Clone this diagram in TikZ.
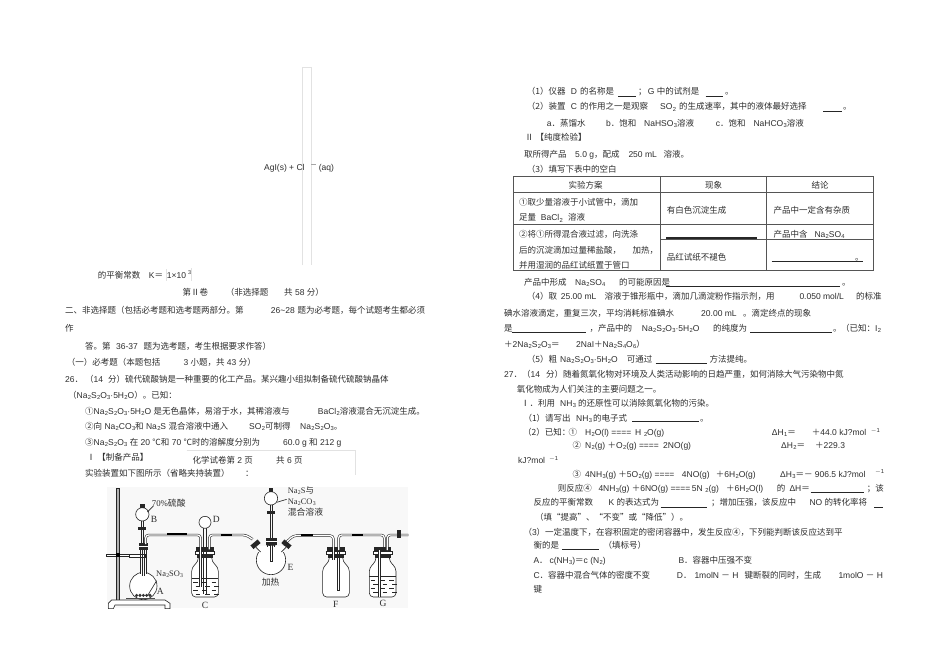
\documentclass[tikz,border=0pt]{standalone}
\usepackage{fontspec}
\setmainfont{Liberation Sans}
\newfontfamily\cjk{Noto Sans CJK SC}
\newfontfamily\labelserif{Liberation Serif}
\definecolor{ink_gray}{RGB}{45,45,45}
\definecolor{box_gray}{RGB}{226,226,226}
\definecolor{rule_gray}{RGB}{85,85,85}
\definecolor{back_gray}{RGB}{248,248,248}
\newcommand{\zh}[1]{{\fontsize{8.5}{10}\cjk #1}}
\newcommand{\low}[1]{\kern0.3pt\raisebox{-1.2pt}{\fontsize{5.8}{6}\selectfont #1}}
\newcommand{\high}[1]{\raisebox{3pt}{\fontsize{5.8}{6}\selectfont #1}}
\newcommand{\thio}{Na\low{2}S\low{2}O\low{3}}
\newcommand{\bottle}[1]{%
  \begin{scope}[shift={(#1,0)}]
    \draw[glass,fill=white,rounded corners=4pt] (-20,262) -- (-20,275) -- (-40,292) -- (-40,381) -- (40,381) -- (40,292) -- (20,275) -- (20,262);
    \fill[black!85] (-26,232) rectangle (26,245);
    \draw[glass,fill=white] (-28,245) rectangle (28,252);
    \fill[black!85] (-24,252) rectangle (24,265);
  \end{scope}}
\newcommand{\liquid}[2]{%
  \draw[glass] (#1-40,#2) -- (#1+40,#2);
  \foreach \yy/\off in {12/0,24/8,36/0,48/8}
    \foreach \xx in {-36,-8,20}
      \draw[glass] (#1+\xx+\off,#2+\yy) -- ++(14,0);}
\begin{document}
\begin{tikzpicture}[x=1pt,y=-1pt,text=ink_gray]
    \tikzset{txt/.style={anchor=base west, inner sep=0pt, font=\fontsize{8.5}{10}\selectfont}}
    \tikzset{blank/.style={black!85, line width=0.9pt}}
    \tikzset{cell/.style={rule_gray, line width=0.8pt}}
    \tikzset{glass/.style={black!85, line width=0.6pt}}
    \tikzset{tube/.style={draw=black!85, double=white, double distance=1.3pt, line width=0.55pt, rounded corners=3pt}}
    \tikzset{rubber/.style={black, line width=2.2pt}}
    \tikzset{lab/.style={anchor=base west, inner sep=0pt, font=\fontsize{9.5}{10}\labelserif}}
    \tikzset{labzh/.style={anchor=base west, inner sep=0pt, font=\fontsize{8.8}{10}\cjk}}
    \tikzset{labna/.style={anchor=base west, inner sep=0pt, font=\fontsize{8.4}{10}\labelserif}}
    \fill[white] (0,0) rectangle (950,671);
    \useasboundingbox (0,0) rectangle (950,671);

    % left column
    \draw[box_gray,line width=0.6pt] (302.3,265) -- (302.3,67.3) -- (311.7,67.3) -- (311.7,265);
    \draw[box_gray,line width=0.6pt] (166.7,269) -- (166.7,281) (191.7,268) -- (191.7,281);
    \draw[box_gray,line width=0.6pt] (186.7,450.7) -- (355,450.7) -- (355,475);
    \node[txt] (agi) at (264,171) {AgI(s) + Cl};
    \draw[black!35,line width=0.6pt] (311,164.5) -- (316,164.5);
    \node[txt] (aq) at (318.7,171) {(aq)};
    \node[txt] (ka) at (97.7,278) {\zh{的平衡常数}};
    \node[txt] (kb) at (148.7,278) {K\zh{＝}};
    \node[txt] (kc) at (166.7,278) {1×10};
    \node[txt] (kd) at (188,274) {\fontsize{5.5}{6}\selectfont 3};
    \node[txt] (p1a) at (182.3,295) {\zh{第Ⅱ卷}};
    \node[txt] (p1b) at (225.7,295) {\zh{（非选择题}};
    \node[txt] (p1c) at (284,295) {\zh{共} 58 \zh{分）}};
    \node[txt] (p2a) at (65,313.5) {\zh{二、非选择题（包括必考题和选考题两部分。第}};
    \node[txt] (p2b) at (270.7,313.5) {26\textasciitilde 28};
    \node[txt] (p2c) at (297.3,313.5) {\zh{题为必考题，每个试题考生都必须}};
    \node[txt] (p3) at (65,331) {\zh{作}};
    \node[txt] (p4a) at (85,349) {\zh{答。第}};
    \node[txt] (p4b) at (116,349) {36-37};
    \node[txt] (p4c) at (143.3,349) {\zh{题为选考题，考生根据要求作答）}};
    \node[txt] (p5a) at (66.7,365) {\zh{（一）必考题（本题包括}};
    \node[txt] (p5b) at (183.3,365) {3 \zh{小题，共} 43 \zh{分）}};
    \node[txt] (p6a) at (65,382.5) {26\zh{．}};
    \node[txt] (p6b) at (85,382.5) {\zh{（}14};
    \node[txt] (p6c) at (108,382.5) {\zh{分）}};
    \node[txt] (p6d) at (125,382.5) {\zh{硫代硫酸钠是一种重要的化工产品。某兴趣小组拟制备硫代硫酸钠晶体}};
    \node[txt] (p7) at (68,398.5) {\zh{（}\thio·5H\low{2}O\zh{）。已知：}};
    \node[txt] (p8a) at (85,414) {\zh{①}\thio·5H\low{2}O \zh{是无色晶体，易溶于水，其稀溶液与}};
    \node[txt] (p8b) at (317.7,414) {BaCl\low{2}\zh{溶液混合无沉淀生成。}};
    \node[txt] (p9a) at (85,429) {\zh{②向} Na\low{2}CO\low{3}\zh{和} Na\low{2}S \zh{混合溶液中通入}};
    \node[txt] (p9b) at (249,429) {SO\low{2}\zh{可制得}};
    \node[txt] (p9c) at (300,429) {\thio\zh{。}};
    \node[txt] (p10a) at (85,445) {\zh{③}\thio\ \zh{在} 20 \zh{℃和} 70 \zh{℃时的溶解度分别为}};
    \node[txt] (p10b) at (283,445) {60.0 g \zh{和} 212 g};
    \node[txt] (p11) at (86.7,460) {\zh{Ⅰ\ 【制备产品】}};
    \node[txt] (foota) at (192.3,463.5) {\zh{化学试卷第} 2 \zh{页}};
    \node[txt] (footb) at (276,463.5) {\zh{共} 6 \zh{页}};
    \node[txt] (p12a) at (85,476) {\zh{实验装置如下图所示（省略夹持装置）}};
    \node[txt] (p12b) at (245,476) {\zh{：}};

    % apparatus, in coordinates of its own
    \begin{scope}[shift={(90,470)},scale=1/3]
      \fill[back_gray] (50,50) rectangle (955,415);
      % stand and clamp
      \draw[glass,fill=black!30] (79,55) rectangle (87,392);
      \draw[glass,fill=white] (65,390) -- (225,390) -- (240,400) -- (240,416) -- (225,416) -- (225,405) -- (75,405) -- (70,416) -- (55,416) -- (55,400) -- cycle;
      \draw[glass,fill=white] (50,252) rectangle (118,258);
      \fill[black] (78,250) rectangle (90,261);
      \draw[glass,fill=white] (118,253) rectangle (165,262);
      % flask A
      \draw[glass,fill=white] (160,348) circle (41);
      \fill[white] (151,300) rectangle (169,320);
      \draw[glass] (151,235) -- (151,311) (169,235) -- (169,311);
      \draw[glass] (157,240) -- (157,318) (163,240) -- (163,318);
      \foreach \xx in {140,150,160,170,180}
        \fill[black!80] (\xx,376) circle (5);
      \draw[black!70,line width=0.8pt] (108,386) -- (195,386);
      \draw[glass] (172,378) -- (200,332);
      \fill[black!85] (147,218) rectangle (173,240);
      \draw[white,line width=0.8pt] (147,228) -- (173,228);
      % funnel B
      \draw[glass,fill=white] (157,133) circle (20);
      \fill[black!85] (150,103) rectangle (164,114);
      \draw[glass] (154,153) -- (154,218) (160,153) -- (160,218);
      \fill[black!85] (144,172) rectangle (168,181);
      \draw[glass] (172,126) -- (190,108);
      % tube A to C
      \draw[tube] (167,222) -- (167,195) -- (332,195) -- (332,345);
      \draw[rubber] (232,193) -- (290,193);
      % bottle C
      \bottle{345}
      \liquid{345}{325}
      \draw[tube] (332,232) -- (332,350);
      \draw[glass] (341,175) -- (341,372) (349,175) -- (349,372);
      \draw[glass,fill=white] (345,157) circle (18);
      \draw[tube] (358,238) -- (358,195) -- (468,195) -- (488,208);
      \draw[rubber] (392,195) -- (425,195);
      % flask E
      \draw[tube] (580,225) -- (610,197) -- (730,197) -- (730,270);
      \draw[glass,fill=white] (543,270) circle (44);
      \fill[white] (505,245) rectangle (582,228);
      \draw[glass] (498,232) -- (512,246) (588,232) -- (574,246);
      \draw[glass] (533,222) -- (533,232) (553,222) -- (553,232);
      \fill[black!85,rotate around={40:(496,222)}] (482,216) rectangle (510,230);
      \fill[black!85,rotate around={-40:(590,222)}] (576,216) rectangle (604,230);
      \draw[rubber] (632,195) -- (668,195);
      % funnel over E
      \draw[glass,fill=white] (543,85) circle (20);
      \fill[black!85] (536,54) rectangle (550,66);
      \draw[glass] (540,105) -- (540,275) -- (547,275) -- (547,105);
      \fill[black!85] (532,124) rectangle (554,133);
      \fill[black!85] (527,203) rectangle (560,225);
      \draw[white,line width=0.8pt] (527,213) -- (560,213);
      \draw[glass] (560,97) -- (590,88);
      % bottle F
      \bottle{738}
      \draw[tube] (730,232) -- (730,270);
      \draw[tube] (746,240) -- (746,195) -- (883,195) -- (883,240);
      \draw[glass] (743,240) -- (743,360) -- (749,360) -- (749,240);
      \draw[rubber] (787,195) -- (820,195);
      % bottle G
      \bottle{878}
      \liquid{878}{320}
      \draw[tube] (868,240) -- (868,382);
      \draw[tube] (892,240) -- (892,195) -- (955,195);
      \fill[black!85] (920,180) rectangle (934,205);
      % labels
      \node[labzh] (acid) at (185,110) {\labelserif 70\%\cjk 硫酸};
      \node[lab] (lb) at (182,158) {B};
      \node[lab] (la) at (200,374) {A};
      \node[labna] (sulfite) at (198,320) {Na\low{2}SO\low{3}};
      \node[lab] (lc) at (335,416) {C};
      \node[lab] (ld) at (368,157) {D};
      \node[lab] (le) at (592,301) {E};
      \node[lab] (lf) at (729,412) {F};
      \node[lab] (lg) at (868,409) {G};
      \node[labzh] (heat) at (515,347) {加热};
      \node[labna] (mixa) at (593,70) {Na\low{2}S\cjk 与};
      \node[labna] (mixb) at (593,104) {Na\low{2}CO\low{3}};
      \node[labzh] (mixc) at (593,135) {混合溶液};
    \end{scope}

    % right column
    \node[txt] (q1a) at (526.7,95) {\zh{（1）仪器}};
    \node[txt] (q1b) at (570.7,95) {D};
    \node[txt] (q1c) at (580,95) {\zh{的名称是}};
    \draw[blank] (618.3,96) -- (636,96);
    \node[txt] (q1d) at (638,95) {\zh{；}};
    \node[txt] (q1e) at (647.7,95) {G};
    \node[txt] (q1f) at (656.7,95) {\zh{中的试剂是}};
    \draw[blank] (705.7,96) -- (723.3,96);
    \node[txt] (q1g) at (725,95) {\zh{。}};
    \node[txt] (q2a) at (526.7,110) {\zh{（2）装置}};
    \node[txt] (q2b) at (570.7,110) {C};
    \node[txt] (q2c) at (580,110) {\zh{的作用之一是观察}};
    \node[txt] (q2d) at (660,110) {SO\low{2}};
    \node[txt] (q2e) at (679,110) {\zh{的生成速率，其中的液体最好选择}};
    \draw[blank] (823.3,111.7) -- (841.7,111.7);
    \node[txt] (q2f) at (843,110) {\zh{。}};
    \node[txt] (q3a) at (546.7,126.5) {a\zh{．蒸馏水}};
    \node[txt] (q3b) at (606,126.5) {b\zh{．饱和}};
    \node[txt] (q3c) at (644,126.5) {NaHSO\low{3}\zh{溶液}};
    \node[txt] (q3d) at (715.7,126.5) {c\zh{．饱和}};
    \node[txt] (q3e) at (753.3,126.5) {NaHCO\low{3}\zh{溶液}};
    \node[txt] (q4) at (525,141) {\zh{Ⅱ\ 【纯度检验】}};
    \node[txt] (q5a) at (524,157.5) {\zh{取所得产品}};
    \node[txt] (q5b) at (575,157.5) {5.0 g\zh{，配成}};
    \node[txt] (q5c) at (628.3,157.5) {250 mL};
    \node[txt] (q5d) at (663.3,157.5) {\zh{溶液。}};
    \node[txt] (q6) at (526.7,173) {\zh{（3）填写下表中的空白}};

    % table
    \draw[cell] (513.3,176.7) rectangle (873.3,270.7);
    \draw[cell] (660.3,176.7) -- (660.3,270.7) (766.7,176.7) -- (766.7,270.7);
    \draw[cell] (513.3,192.7) -- (873.3,192.7) (513.3,224.3) -- (873.3,224.3) (660.3,239.3) -- (873.3,239.3);
    \node[txt,anchor=base] (th1) at (585.7,189) {\zh{实验方案}};
    \node[txt,anchor=base] (th2) at (713.5,189) {\zh{现象}};
    \node[txt,anchor=base] (th3) at (820,189) {\zh{结论}};
    \node[txt] (c1a) at (519,206) {\zh{①取少量溶液于小试管中，滴加}};
    \node[txt] (c1b) at (519,221) {\zh{足量}};
    \node[txt] (c1c) at (540.7,221) {BaCl\low{2}};
    \node[txt] (c1d) at (568,221) {\zh{溶液}};
    \node[txt] (c2) at (666.7,214) {\zh{有白色沉淀生成}};
    \node[txt] (c3) at (773.3,214) {\zh{产品中一定含有杂质}};
    \node[txt] (c4a) at (519,237.5) {\zh{②将①所得混合液过滤，向洗涤}};
    \node[txt] (c4b) at (519,253.5) {\zh{后的沉淀滴加过量稀盐酸，}};
    \node[txt] (c4c) at (632.3,253.5) {\zh{加热，}};
    \node[txt] (c4d) at (519,268.5) {\zh{并用湿润的品红试纸置于管口}};
    \draw[blank,line width=1.1pt] (666,238) -- (757.3,238);
    \node[txt] (c5a) at (773.3,237.5) {\zh{产品中含}};
    \node[txt] (c5b) at (814.3,237.5) {Na\low{2}SO\low{4}};
    \node[txt] (c6) at (666.7,260) {\zh{品红试纸不褪色}};
    \draw[blank,line width=0.6pt] (771.7,261) -- (863.3,261);
    \node[txt] (c7) at (855,260) {\zh{。}};

    \node[txt] (q7a) at (524,285) {\zh{产品中形成}};
    \node[txt] (q7b) at (575,285) {Na\low{2}SO\low{4}};
    \node[txt] (q7c) at (619,285) {\zh{的可能原因是}};
    \draw[blank] (665.7,286) -- (840,286);
    \node[txt] (q7d) at (842,285) {\zh{。}};
    \node[txt] (q8a) at (526.7,299.5) {\zh{（4）取}};
    \node[txt] (q8b) at (560.7,299.5) {25.00 mL};
    \node[txt] (q8c) at (604.3,299.5) {\zh{溶液于锥形瓶中，滴加几滴淀粉作指示剂，用}};
    \node[txt] (q8d) at (799.3,299.5) {0.050 mol/L};
    \node[txt] (q8e) at (856,299.5) {\zh{的标准}};
    \node[txt] (q9a) at (504,316) {\zh{碘水溶液滴定，重复三次，平均消耗标准碘水}};
    \node[txt] (q9b) at (701,316) {20.00 mL};
    \node[txt] (q9c) at (743,316) {\zh{。滴定终点的现象}};
    \node[txt] (q10a) at (504,331) {\zh{是}};
    \draw[blank] (511.7,332.3) -- (586,332.3);
    \node[txt] (q10b) at (589.3,331) {\zh{，产品中的}};
    \node[txt] (q10c) at (641.7,331) {\thio·5H\low{2}O};
    \node[txt] (q10d) at (713,331) {\zh{的纯度为}};
    \draw[blank] (750,332.3) -- (832.3,332.3);
    \node[txt] (q10e) at (833,331) {\zh{。}};
    \node[txt] (q10g) at (841,331) {\zh{（已知：}};
    \node[txt] (q10f) at (875,331) {I\low{2}};
    \node[txt] (q11a) at (504,347) {\zh{＋}2Na\low{2}S\low{2}O\low{3}\zh{＝}};
    \node[txt] (q11b) at (576,347) {2NaI\zh{＋}Na\low{2}S\low{4}O\low{6}\zh{）}};
    \node[txt] (q12a) at (526.7,362) {\zh{（5）粗}};
    \node[txt] (q12b) at (560,362) {\thio·5H\low{2}O};
    \node[txt] (q12c) at (626.7,362) {\zh{可通过}};
    \draw[blank] (655.7,363) -- (707.3,363);
    \node[txt] (q12d) at (709.3,362) {\zh{方法提纯。}};
    \node[txt] (r1a) at (504,377) {27\zh{．（}14};
    \node[txt] (r1b) at (546,377) {\zh{分）随着氮氧化物对环境及人类活动影响的日趋严重，如何消除大气污染物中氮}};
    \node[txt] (r2) at (516.7,392) {\zh{氧化物成为人们关注的主要问题之一。}};
    \node[txt] (r3a) at (521,406) {\zh{Ⅰ．利用}};
    \node[txt] (r3b) at (560,406) {NH\low{3}};
    \node[txt] (r3c) at (578,406) {\zh{的还原性可以消除氮氧化物的污染。}};
    \node[txt] (r4a) at (523.3,421) {\zh{（1）请写出}};
    \node[txt] (r4b) at (576,421) {NH\low{3}};
    \node[txt] (r4c) at (593,421) {\zh{的电子式}};
    \draw[blank] (632.3,421.7) -- (699,421.7);
    \node[txt] (r4d) at (700,421) {\zh{。}};
    \node[txt] (r5a) at (523,435) {\zh{（2）已知：}};
    \node[txt] (r5e) at (568.3,435) {\zh{①}};
    \node[txt] (r5b) at (585,435) {H\low{2}O(l) ====};
    \node[txt] (r5f) at (635,435) {H\ \low{2}O(g)};
    \node[txt] (r5c) at (771.7,435) {ΔH\low{1}\zh{＝}};
    \node[txt] (r5d) at (811.7,435) {\zh{＋}44.0 kJ?mol\ \ \high{$-$1}};
    \node[txt] (r6a) at (572.3,448) {\zh{②}};
    \node[txt] (r6b) at (585,448) {N\low{2}(g) \zh{＋}O\low{2}(g) ====};
    \node[txt] (r6e) at (663,448) {2NO(g)};
    \node[txt] (r6c) at (781,448) {ΔH\low{2}\zh{＝}};
    \node[txt] (r6d) at (815,448) {\zh{＋}229.3};
    \node[txt] (r7) at (518,463.5) {kJ?mol};
    \node[txt] (r7b) at (549,460) {\fontsize{5.8}{6}\selectfont $-$1};
    \node[txt] (r8a) at (572.3,477) {\zh{③}};
    \node[txt] (r8b) at (585,477) {4NH\low{3}(g) \zh{＋}5O\low{2}(g) ====};
    \node[txt] (r8e) at (681.7,477) {4NO(g)};
    \node[txt] (r8f) at (715.7,477) {\zh{＋}6H\low{2}O(g)};
    \node[txt] (r8c) at (780,477) {ΔH\low{3}\zh{＝－} 906.5 kJ?mol};
    \node[txt] (r8d) at (875,473) {\fontsize{5.8}{6}\selectfont $-$1};
    \node[txt] (r9a) at (557.7,491) {\zh{则反应④}};
    \node[txt] (r9b) at (598.3,491) {4NH\low{3}(g) \zh{＋}6NO(g) ====};
    \node[txt] (r9f) at (691.7,491) {5N\ \low{2}(g)};
    \node[txt] (r9g) at (726,491) {\zh{＋}6H\low{2}O(l)};
    \node[txt] (r9c) at (776.7,491) {\zh{的}};
    \node[txt] (r9d) at (789.3,491) {ΔH\zh{＝}};
    \draw[blank] (810.7,492.3) -- (864,492.3);
    \node[txt] (r9e) at (866.7,491) {\zh{；该}};
    \node[txt] (r10a) at (533.3,505) {\zh{反应的平衡常数}};
    \node[txt] (r10b) at (608.3,505) {K \zh{的表达式为}};
    \draw[blank,line width=0.6pt] (660.7,507.7) -- (707.3,507.7);
    \node[txt] (r10c) at (711,505) {\zh{；增加压强，该反应中}};
    \node[txt] (r10d) at (809.3,505) {NO \zh{的转化率将}};
    \draw[blank,line width=0.6pt] (874.3,507.7) -- (883,507.7);
    \node[txt] (r11) at (535,520) {\zh{（填“提高”、“不变”或“降低”）。}};
    \node[txt] (r12) at (523.3,535) {\zh{（}3\zh{）一定温度下，在容积固定的密闭容器中，发生反应④，下列能判断该反应达到平}};
    \node[txt] (r13a) at (533.3,548.5) {\zh{衡的是}};
    \draw[blank,line width=0.6pt] (562.3,549.3) -- (599.3,549.3);
    \node[txt] (r13b) at (603.3,548.5) {\zh{（填标号）}};
    \node[txt] (r14a) at (533.3,563.5) {A\zh{．}};
    \node[txt] (r14b) at (549.3,563.5) {c(NH\low{3})\zh{＝}c (N\low{2})};
    \node[txt] (r14c) at (678.3,563.5) {B\zh{．容器中压强不变}};
    \node[txt] (r15a) at (533.3,578) {C\zh{．容器中混合气体的密度不变}};
    \node[txt] (r15b) at (676.7,578) {D\zh{．}};
    \node[txt] (r15c) at (694.3,578) {1molN \zh{－} H};
    \node[txt] (r15d) at (744.3,578) {\zh{键断裂的同时，生成}};
    \node[txt] (r15e) at (838.3,578) {1molO \zh{－} H};
    \node[txt] (r16) at (533.3,592) {\zh{键}};
\end{tikzpicture}
\end{document}
